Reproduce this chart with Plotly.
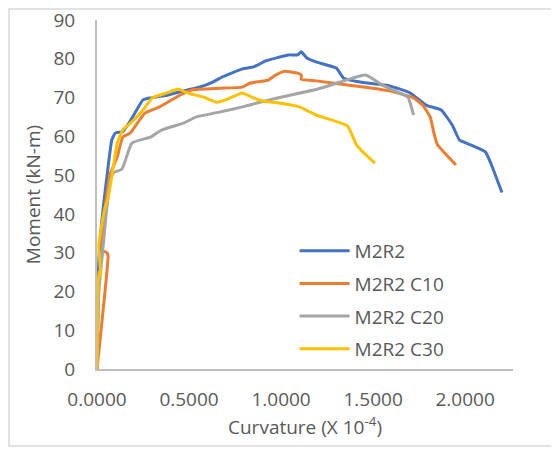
import plotly.graph_objects as go

# M2R2
m2r2_x = [0, 0.005, 0.01, 0.03, 0.06, 0.08, 0.10, 0.14, 0.19, 0.25, 0.29, 0.37, 0.45, 0.55, 0.63, 0.68, 0.79, 0.85, 0.92, 0.98, 1.04, 1.09, 1.11, 1.14, 1.19, 1.30, 1.34, 1.43, 1.59, 1.70, 1.79, 1.87, 1.93, 1.97, 2.03, 2.11, 2.14, 2.20]
m2r2_y = [0, 15, 28, 40, 52, 59, 60.9, 61.2, 64.7, 69.4, 69.9, 70.5, 71.5, 72.6, 74, 75.3, 77.4, 77.9, 79.5, 80.3, 81, 81, 81.8, 80.2, 79.2, 77.6, 75, 74, 73, 71.2, 68, 66.8, 62.9, 59, 57.8, 56, 53, 45.5]

# M2R2 C10
c10_x = [0, 0.06, 0.055, 0.03, 0.04, 0.07, 0.11, 0.14, 0.18, 0.26, 0.34, 0.45, 0.52, 0.67, 0.79, 0.83, 0.93, 0.97, 1.02, 1.09, 1.11, 1.11, 1.19, 1.37, 1.48, 1.61, 1.72, 1.77, 1.81, 1.83, 1.85, 1.95]
c10_y = [0, 29, 30, 30.5, 40, 50, 54.7, 59.8, 60.8, 66, 67.6, 70.6, 72, 72.4, 72.7, 73.7, 74.5, 75.8, 76.8, 76.3, 75.8, 74.7, 74.3, 73.2, 72.5, 71.5, 69.9, 68, 65, 60.9, 57.8, 52.6]

# M2R2 C20
c20_x = [0, 0.01, 0.03, 0.05, 0.07, 0.087, 0.136, 0.19, 0.29, 0.35, 0.47, 0.54, 0.67, 0.79, 0.87, 0.98, 1.20, 1.32, 1.46, 1.55, 1.69, 1.70, 1.72]
c20_y = [0, 20, 30, 40, 48, 50.5, 51.6, 58.3, 59.8, 61.6, 63.4, 65, 66.3, 67.6, 68.6, 69.9, 72.2, 74, 75.8, 73.2, 70.1, 68.8, 65.5]

# M2R2 C30
c30_x = [0, 0.01, 0.02, 0.01, 0.04, 0.06, 0.08, 0.11, 0.14, 0.20, 0.25, 0.30, 0.38, 0.44, 0.49, 0.58, 0.65, 0.71, 0.79, 0.85, 0.90, 0.99, 1.10, 1.19, 1.36, 1.41, 1.45, 1.51]
c30_y = [0, 25, 24, 32, 41, 44, 49.5, 58.3, 61.6, 64.2, 66.8, 69.9, 71.2, 72.2, 71.2, 70.1, 68.8, 69.6, 71.2, 69.9, 69.1, 68.6, 67.6, 65.5, 62.7, 57.8, 55.7, 53.1]

names = ["M2R2", "M2R2 C10", "M2R2 C20", "M2R2 C30"]
colors = ["#4472C4", "#ED7D31", "#A5A5A5", "#FFC000"]
series = [(m2r2_x, m2r2_y), (c10_x, c10_y), (c20_x, c20_y), (c30_x, c30_y)]

x_ticks = [0, 0.5, 1.0, 1.5, 2.0]
y_ticks = list(range(0, 91, 10))

font_family = "Open Sans, Liberation Sans, sans-serif"
txt = "#595959"
fs = 19

# page body has an 8px default margin, so the figure is drawn 8px in
W, H = 551, 442
L, T, PW, PH = 89, 12, 416, 349

fig = go.Figure()
for (xs, ys), n, c in zip(series, names, colors):
    fig.add_trace(go.Scatter(x=xs, y=ys, name=n, mode="lines", legendgroup=n,
                             line=dict(color=c, width=3, shape="spline", smoothing=0.4)))

fig.update_layout(
    width=W, height=H,
    margin=dict(l=L, r=W - L - PW, t=T, b=H - T - PH),
    paper_bgcolor="white", plot_bgcolor="white",
    font=dict(family=font_family, size=fs, color=txt),
    showlegend=True,
    legend=dict(x=0.475, y=0.393, xanchor="left", yanchor="top",
                bgcolor="rgba(0,0,0,0)", font=dict(size=fs, color=txt),
                itemwidth=50, tracegroupgap=5, traceorder="grouped"),
    xaxis=dict(range=[0, 2.26], tickvals=x_ticks, tickformat=".4f",
               showgrid=False, zeroline=False, showline=True,
               linecolor="#BFBFBF", linewidth=2, ticks="",
               ticklabelstandoff=12, automargin=False, ticklabeloverflow="allow",
               title=dict(text="Curvature (X 10<sup>-4</sup>)", standoff=8,
                          font=dict(size=fs, color=txt))),
    yaxis=dict(range=[0, 90], tickvals=y_ticks,
               showgrid=False, zeroline=False, showline=True,
               linecolor="#BFBFBF", linewidth=2, ticks="",
               ticklabelstandoff=16, automargin=False, ticklabeloverflow="allow",
               title=dict(text="Moment (kN-m)", standoff=8,
                          font=dict(size=fs, color=txt))),
)

# chart-area border
fig.add_shape(type="rect", xref="paper", yref="paper",
              x0=(1 - L) / PW, x1=(545 - L) / PW,
              y0=(T + PH - 438) / PH, y1=(T + PH - 1) / PH,
              line=dict(color="#D9D9D9", width=1.5), layer="below")

fig.write_html("out.html")
